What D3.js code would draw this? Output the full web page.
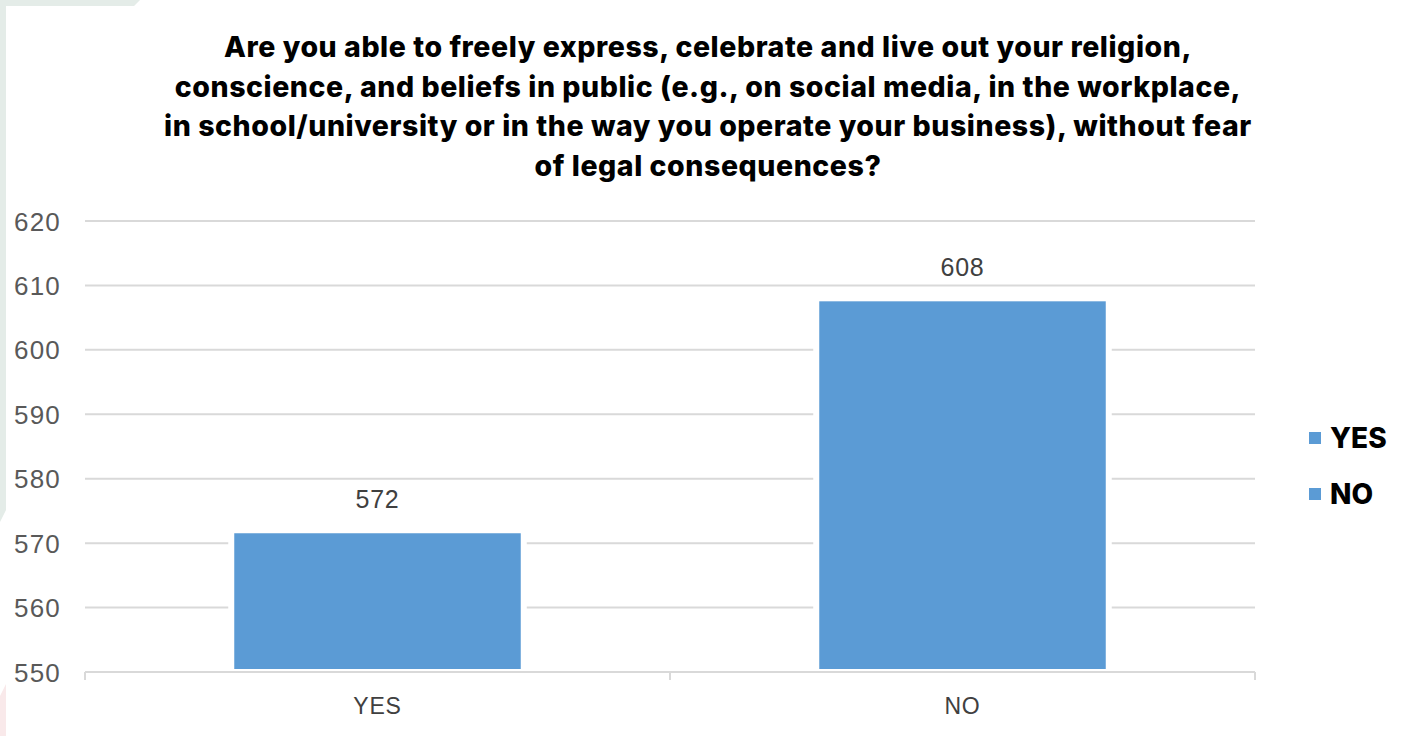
<!DOCTYPE html>
<html>
<head>
<meta charset="utf-8">
<script src="https://cdn.jsdelivr.net/npm/d3@7"></script>
<style>
  html, body { margin: 0; padding: 0; background: #ffffff; }
  svg { display: block; }
</style>
</head>
<body>
<svg id="chart" width="1403" height="736"></svg>
<script>
// Survey answers and counts
const categories = ["YES", "NO"];
const counts = [572, 608];
const yTicks = [550, 560, 570, 580, 590, 600, 610, 620];
const titleLines = [
  "Are you able to freely express, celebrate and live out your religion,",
  "conscience, and beliefs in public (e.g., on social media, in the workplace,",
  "in school/university or in the way you operate your business), without fear",
  "of legal consequences?"
];

const W = 1403, H = 736;
const svg = d3.select("#chart");

// Decorative frame strips on the page edge
const frame = svg.append("g");
frame.append("path")
  .attr("d", "M0,0 L140,0 L134,6 L6,6 L6,510 L0,522 Z")
  .attr("fill", "#e4ece8");
frame.append("path")
  .attr("d", "M0,696 L6,684 L6,736 L0,736 Z")
  .attr("fill", "#f9e9ea");

const plot = { left: 85, right: 1255, top: 221, bottom: 672 };

const x = d3.scaleBand()
  .domain(categories)
  .range([plot.left, plot.right])
  .paddingInner(0.5)
  .paddingOuter(0.25);

const y = d3.scaleLinear()
  .domain([550, 620])
  .range([plot.bottom, plot.top]);

// Title, lightly tracked so the longest line spans ~1088px
const title = svg.append("text")
  .attr("text-anchor", "middle")
  .attr("font-family", "Inter, 'Liberation Sans', sans-serif")
  .attr("font-weight", 800)
  .attr("font-size", 28.5)
  .attr("fill", "#000000");
const tspans = titleLines.map((line, i) =>
  title.append("tspan")
    .attr("x", 708)
    .attr("y", 57 + i * 39.5)
    .text(line));
const widest = d3.max(tspans, t => t.node().getComputedTextLength());
const widestChars = d3.max(titleLines, l => l.length);
const spacing = (1088 - widest) / widestChars;
title.attr("letter-spacing", spacing.toFixed(2));

// Horizontal gridlines
svg.append("g")
  .selectAll("line")
  .data(yTicks.filter(d => d !== 550))
  .join("line")
  .attr("x1", plot.left)
  .attr("x2", plot.right)
  .attr("y1", d => y(d))
  .attr("y2", d => y(d))
  .attr("stroke", "#d9d9d9")
  .attr("stroke-width", 2);

// Y axis labels
const yAxis = d3.axisLeft(y).tickValues(yTicks).tickSize(0).tickPadding(0);
const yg = svg.append("g")
  .attr("transform", `translate(61,0)`)
  .call(yAxis);
yg.select(".domain").remove();
yg.selectAll("text")
  .attr("font-family", "'Liberation Sans', Arial, sans-serif")
  .attr("font-size", 26)
  .attr("letter-spacing", 1.2)
  .attr("fill", "#595959")
  .attr("dy", "0.35em");

// Bars
svg.append("g")
  .selectAll("rect")
  .data(categories.map((c, i) => ({ c, v: counts[i] })))
  .join("rect")
  .attr("x", d => x(d.c))
  .attr("width", x.bandwidth())
  .attr("y", d => y(d.v))
  .attr("height", d => y(550) - y(d.v))
  .attr("fill", "#5b9bd5")
  .attr("stroke", "#ffffff")
  .attr("stroke-width", 6);

// X axis line and category labels
const xAxis = d3.axisBottom(x).tickSize(0).tickPadding(0);
const xg = svg.append("g")
  .attr("transform", `translate(0,${plot.bottom})`)
  .call(xAxis);
xg.select(".domain")
  .attr("d", `M${plot.left},0H${plot.right}`)
  .attr("stroke", "#d9d9d9")
  .attr("stroke-width", 2);
xg.selectAll("text")
  .attr("font-family", "'Liberation Sans', Arial, sans-serif")
  .attr("font-size", 23)
  .attr("letter-spacing", 0.8)
  .attr("fill", "#404040")
  .attr("dy", "0.35em")
  .attr("y", 34);

// Category boundary tick marks
const step = x.step();
const boundaries = [plot.left, plot.left + step, plot.right];
svg.append("g")
  .selectAll("line")
  .data(boundaries)
  .join("line")
  .attr("x1", d => d)
  .attr("x2", d => d)
  .attr("y1", plot.bottom)
  .attr("y2", plot.bottom + 8)
  .attr("stroke", "#d9d9d9")
  .attr("stroke-width", 2);

// Value labels above bars
svg.append("g")
  .selectAll("text")
  .data(categories.map((c, i) => ({ c, v: counts[i] })))
  .join("text")
  .attr("x", d => x(d.c) + x.bandwidth() / 2)
  .attr("y", d => y(d.v) - 31)
  .attr("dy", "0.35em")
  .attr("text-anchor", "middle")
  .attr("font-family", "'Liberation Sans', Arial, sans-serif")
  .attr("font-size", 25)
  .attr("letter-spacing", 0.8)
  .attr("fill", "#404040")
  .text(d => d.v);

// Legend
const legend = svg.append("g")
  .selectAll("g")
  .data(categories)
  .join("g")
  .attr("transform", (d, i) => `translate(1309,${438 + i * 56})`);
legend.append("rect")
  .attr("x", 0)
  .attr("y", -6)
  .attr("width", 12)
  .attr("height", 12)
  .attr("fill", "#5b9bd5");
legend.append("text")
  .attr("x", 21)
  .attr("y", 0)
  .attr("dy", "0.36em")
  .attr("font-family", "Inter, 'Liberation Sans', sans-serif")
  .attr("font-weight", 800)
  .attr("font-size", 28)
  .attr("fill", "#000000")
  .text(d => d);
</script>
</body>
</html>
